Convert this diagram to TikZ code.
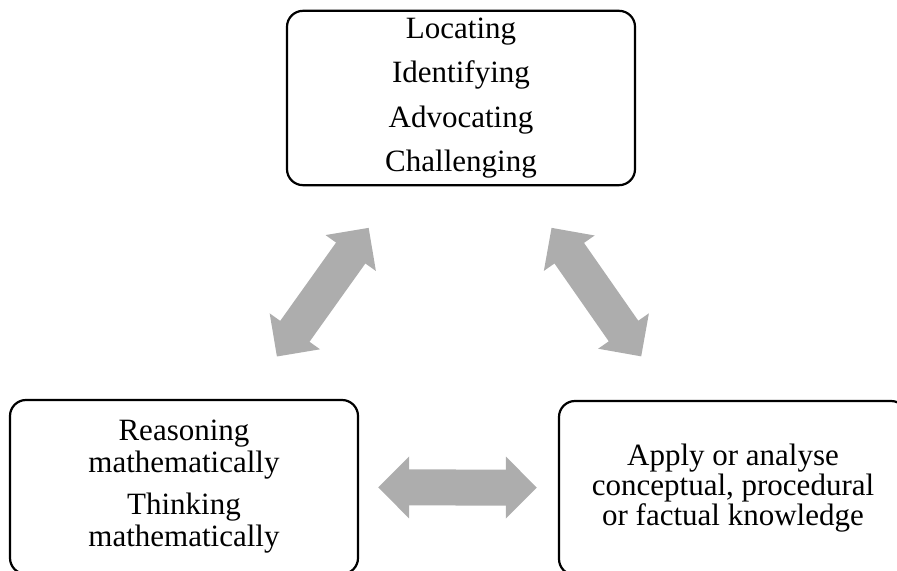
\documentclass[tikz,border=0pt]{standalone}
\usepackage{fontspec}
\setmainfont{Liberation Serif}
\usepackage{xcolor}
\usepackage[]{tikz}
\usetikzlibrary{positioning,calc}
\usetikzlibrary{arrows.meta,arrows}
\definecolor{arrowGray}{HTML}{ADADAD}
\tikzstyle{nodeBox}  =[draw, line width=1.1pt, rounded corners=8pt, minimum width=174pt, minimum height=87pt, align=center]
\tikzstyle{arrowBoth}=[draw=arrowGray, line width=18pt, {Triangle[width=30pt,length=15.5pt]}-{Triangle[width=30pt,length=15.5pt]}]

\begin{document}
\begin{tikzpicture}[x=0.5pt, y=-0.5pt]
        \useasboundingbox (0,0) rectangle (897,571);
        \node[nodeBox, font=\fontsize{15.5}{22.3}\selectfont] (1) at (461,98) {Locating\\Identifying\\Advocating\\Challenging};
        \node[nodeBox, font=\fontsize{15.5}{16}\selectfont] (2) at (184,487) {Reasoning\\mathematically\\[5pt]Thinking\\mathematically};
        \node[nodeBox, font=\fontsize{15.5}{14}\selectfont] (3) at (733,488) {Apply or analyse\\conceptual, procedural\\or factual knowledge};
        \draw[arrowBoth, shorten <=26pt, shorten >=25.5pt] (2) -- (1);
        \draw[arrowBoth, shorten <=25.3pt, shorten >=26.5pt] (1) -- (3);
        \draw[arrowBoth, shorten <=9.5pt, shorten >=10.5pt] (2) -- (3);
      \end{tikzpicture}
\end{document}
